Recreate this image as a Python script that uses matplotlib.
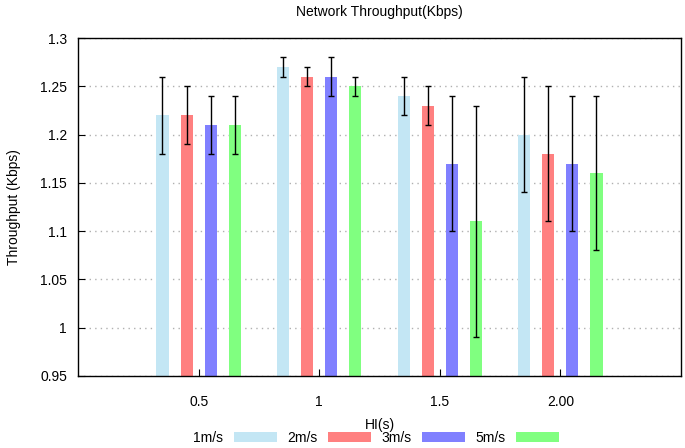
import matplotlib
matplotlib.use("Agg")
import matplotlib.pyplot as plt
import numpy as np

plt.rcParams['font.family'] = ['Liberation Sans', 'DejaVu Sans']

groups = ['0.5', '1', '1.5', '2.00']
speeds = ['1m/s', '2m/s', '3m/s', '5m/s']
colors = ['#c3e6f4', '#ff8080', '#8080ff', '#80ff80']

# mean throughput per speed, one value per HI group
means = [
    [1.22, 1.27, 1.24, 1.20],
    [1.22, 1.26, 1.23, 1.18],
    [1.21, 1.26, 1.17, 1.17],
    [1.21, 1.25, 1.11, 1.16],
]
# error bar ends (low, high)
lows = [
    [1.18, 1.26, 1.22, 1.14],
    [1.19, 1.25, 1.21, 1.11],
    [1.18, 1.24, 1.10, 1.10],
    [1.18, 1.24, 0.99, 1.08],
]
highs = [
    [1.26, 1.28, 1.26, 1.26],
    [1.25, 1.27, 1.25, 1.25],
    [1.24, 1.28, 1.24, 1.24],
    [1.24, 1.26, 1.23, 1.24],
]

fig = plt.figure(figsize=(6.85, 4.48), dpi=100)
ax = fig.add_axes([0.114, 0.161, 0.880, 0.754])

x = np.arange(len(groups))
offsets = [-0.3, -0.1, 0.1, 0.3]
for i in range(len(speeds)):
    m = np.array(means[i])
    lo = m - np.array(lows[i])
    hi = np.array(highs[i]) - m
    ax.bar(x + offsets[i], m - 0.95, bottom=0.95, width=0.1,
           color=colors[i], label=speeds[i], zorder=2)
    ax.errorbar(x + offsets[i], m, yerr=[lo, hi], fmt='none',
                ecolor='black', elinewidth=1, capsize=2.5, capthick=1, zorder=3)

ax.set_xlim(-1, 4)
ax.set_ylim(0.95, 1.3)
ax.set_xticks(x)
ax.set_xticklabels(groups)
ax.set_yticks([0.95, 1.0, 1.05, 1.1, 1.15, 1.2, 1.25, 1.3])
ax.set_yticklabels(['0.95', '1', '1.05', '1.1', '1.15', '1.2', '1.25', '1.3'])
ax.tick_params(axis='both', direction='in', length=5, labelsize=10, pad=8)
ax.tick_params(axis='x', pad=14)
ax.yaxis.grid(True, linestyle=(0, (1, 3)), color='#b0b0b0', linewidth=1, zorder=0)
ax.set_axisbelow(True)
for s in ax.spines.values():
    s.set_linewidth(1)

ax.set_title('Network Throughput(Kbps)', fontsize=10, pad=16)
ax.set_ylabel('Throughput (Kbps)', fontsize=10, labelpad=14)
ax.set_xlabel('HI(s)', fontsize=10, labelpad=6)

handles, labels = ax.get_legend_handles_labels()
fig.legend(handles, labels, loc='center', bbox_to_anchor=(0.549, 0.022), ncol=4,
           frameon=False, markerfirst=False, fontsize=10, handlelength=3.1,
           handleheight=0.7, handletextpad=0.8, columnspacing=0.7, borderaxespad=0,
           borderpad=0)

fig.savefig('out.png', dpi=100, facecolor='white')
